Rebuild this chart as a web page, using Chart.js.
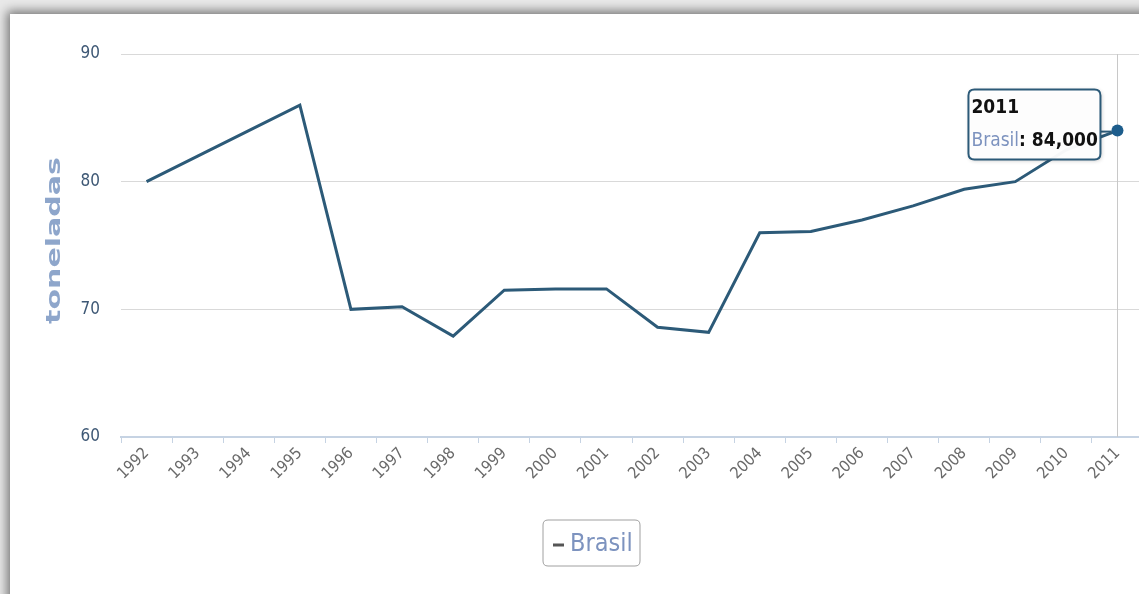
<!DOCTYPE html>
<html>
<head>
<meta charset="utf-8">
<script src="https://cdn.jsdelivr.net/npm/chart.js@4.4.1/dist/chart.umd.min.js"></script>
<style>
  html, body { margin: 0; padding: 0; width: 1139px; height: 594px; overflow: hidden; background: #e9e9e9; }
  #panel { position: absolute; left: 10px; top: 14px; width: 1300px; height: 800px; background: #fff;
           box-shadow: 0 0 10px 3px rgba(0,0,0,0.5); }
  #wrap { position: absolute; left: 0; top: 0; width: 1149px; height: 594px; }
</style>
</head>
<body>
<div id="panel"></div>
<div id="wrap"><canvas id="c"></canvas></div>
<script>
const categories = ['1992','1993','1994','1995','1996','1997','1998','1999','2000','2001',
                    '2002','2003','2004','2005','2006','2007','2008','2009','2010','2011'];
const brasil = [80, 82, 84, 86, 70, 70.2, 67.9, 71.5, 71.6, 71.6,
                68.6, 68.2, 76.0, 76.1, 77.0, 78.1, 79.4, 80.0, 82.5, 84.0];
const yTicks = [60, 70, 80, 90];
const seriesName = 'Brasil';
const yTitle = 'toneladas';
const highlightIndex = 19;

const FONT = "'Liberation Sans Narrow', 'DejaVu Sans', sans-serif";
const LINE = '#2c5a78';

function fmt(v) {
  const s = v.toFixed(3);
  const [i, d] = s.split('.');
  return i.replace(/\B(?=(\d{3})+(?!\d))/g, ',') + ',' + d;
}

function roundRect(ctx, x, y, w, h, r) {
  ctx.beginPath();
  ctx.moveTo(x + r, y);
  ctx.lineTo(x + w - r, y); ctx.quadraticCurveTo(x + w, y, x + w, y + r);
  ctx.lineTo(x + w, y + h - r); ctx.quadraticCurveTo(x + w, y + h, x + w - r, y + h);
  ctx.lineTo(x + r, y + h); ctx.quadraticCurveTo(x, y + h, x, y + h - r);
  ctx.lineTo(x, y + r); ctx.quadraticCurveTo(x, y, x + r, y);
  ctx.closePath();
}

const crosshair = {
  id: 'crosshair',
  beforeDatasetsDraw(chart) {
    const x = chart.scales.x.getPixelForValue(highlightIndex);
    const a = chart.chartArea;
    const ctx = chart.ctx;
    ctx.save();
    ctx.strokeStyle = '#c8c8c8';
    ctx.lineWidth = 1;
    ctx.beginPath();
    ctx.moveTo(Math.round(x) + 0.5, a.top);
    ctx.lineTo(Math.round(x) + 0.5, a.bottom);
    ctx.stroke();
    ctx.restore();
  }
};

const tipAndLegend = {
  id: 'tipAndLegend',
  afterDraw(chart) {
    const ctx = chart.ctx;
    const meta = chart.getDatasetMeta(0);
    const pt = meta.data[highlightIndex];
    const a = chart.chartArea;

    // y axis title
    ctx.save();
    ctx.translate(55, (a.top + a.bottom) / 2 - 5);
    ctx.rotate(-Math.PI / 2);
    ctx.scale(1.5, 1);
    ctx.font = "bold 20px 'DejaVu Sans', sans-serif";
    ctx.fillStyle = '#8ea6cb';
    ctx.textAlign = 'center';
    ctx.textBaseline = 'middle';
    ctx.fillText(yTitle, 0, 0);
    ctx.restore();

    // tooltip
    const w = 132, h = 70;
    const bx = pt.x - 17 - w, by = pt.y - 41;
    ctx.save();
    ctx.strokeStyle = LINE;
    ctx.lineWidth = 2;
    ctx.beginPath();
    ctx.moveTo(bx + w, pt.y + 1); ctx.lineTo(pt.x - 6, pt.y + 1);
    ctx.stroke();
    ctx.shadowColor = 'rgba(0,0,0,0.25)';
    ctx.shadowBlur = 4; ctx.shadowOffsetX = 1; ctx.shadowOffsetY = 1;
    roundRect(ctx, bx, by, w, h, 6);
    ctx.fillStyle = 'rgba(255,255,255,0.96)';
    ctx.fill();
    ctx.shadowColor = 'transparent';
    ctx.stroke();
    ctx.textBaseline = 'alphabetic';
    ctx.textAlign = 'left';
    ctx.font = 'normal bold condensed 19px ' + FONT;
    ctx.fillStyle = '#111';
    ctx.fillText(categories[highlightIndex], bx + 3, by + 23);
    ctx.font = 'normal normal condensed 19px ' + FONT;
    ctx.fillStyle = '#7d93bf';
    ctx.fillText(seriesName, bx + 3, by + 56);
    let tx = bx + 3 + ctx.measureText(seriesName).width;
    ctx.font = 'normal bold condensed 19px ' + FONT;
    ctx.fillStyle = '#111';
    ctx.fillText(': ' + fmt(brasil[highlightIndex]), tx, by + 56);
    ctx.restore();

    // legend
    const lw = 97, lh = 46;
    const lx = 543, ly = 520;
    ctx.save();
    roundRect(ctx, lx, ly, lw, lh, 5);
    ctx.fillStyle = '#fff';
    ctx.fill();
    ctx.lineWidth = 1;
    ctx.strokeStyle = '#a0a0a0';
    ctx.stroke();
    ctx.strokeStyle = '#555';
    ctx.lineWidth = 3;
    ctx.beginPath();
    ctx.moveTo(lx + 10, ly + 25); ctx.lineTo(lx + 21, ly + 25);
    ctx.stroke();
    ctx.font = 'normal normal condensed 25px ' + FONT;
    ctx.fillStyle = '#7d93bf';
    ctx.textBaseline = 'middle';
    ctx.fillText(seriesName, lx + 27, ly + 24);
    ctx.restore();
  }
};

new Chart(document.getElementById('c'), {
  type: 'line',
  data: {
    labels: categories,
    datasets: [{
      label: seriesName,
      data: brasil,
      borderColor: LINE,
      borderWidth: 3,
      tension: 0,
      fill: false,
      pointRadius: ctx => ctx.dataIndex === highlightIndex ? 6 : 0,
      pointBackgroundColor: '#1d5d8c',
      pointBorderColor: '#1d5d8c',
      pointBorderWidth: 0
    }]
  },
  options: {
    responsive: true,
    maintainAspectRatio: false,
    animation: false,
    events: [],
    layout: { padding: { top: 54, right: 0, left: 0, bottom: 0 } },
    plugins: { legend: { display: false }, tooltip: { enabled: false } },
    scales: {
      x: {
        type: 'category',
        offset: true,
        afterFit: s => { s.height = 157; },
        grid: { display: true, offset: true, drawOnChartArea: false, drawTicks: true,
                tickLength: 6, color: '#c6d3e3', lineWidth: 1 },
        border: { display: true, color: '#c6d3e3', width: 2 },
        ticks: { minRotation: 45, maxRotation: 45, autoSkip: false, padding: 1,
                 color: '#6a6a6a', font: { family: FONT, size: 16, weight: 'condensed' } }
      },
      y: {
        min: 60, max: 90,
        afterFit: s => { s.width = 121; },
        afterBuildTicks: s => { s.ticks = yTicks.map(v => ({ value: v })); },
        grid: { color: '#d9d9d9', lineWidth: 1, drawTicks: false, tickLength: 0 },
        border: { display: false },
        ticks: { padding: 21, color: '#3e5875', font: { family: FONT, size: 17, weight: 'condensed' } },
        title: { display: false }
      }
    }
  },
  plugins: [crosshair, tipAndLegend]
});
</script>
</body>
</html>
